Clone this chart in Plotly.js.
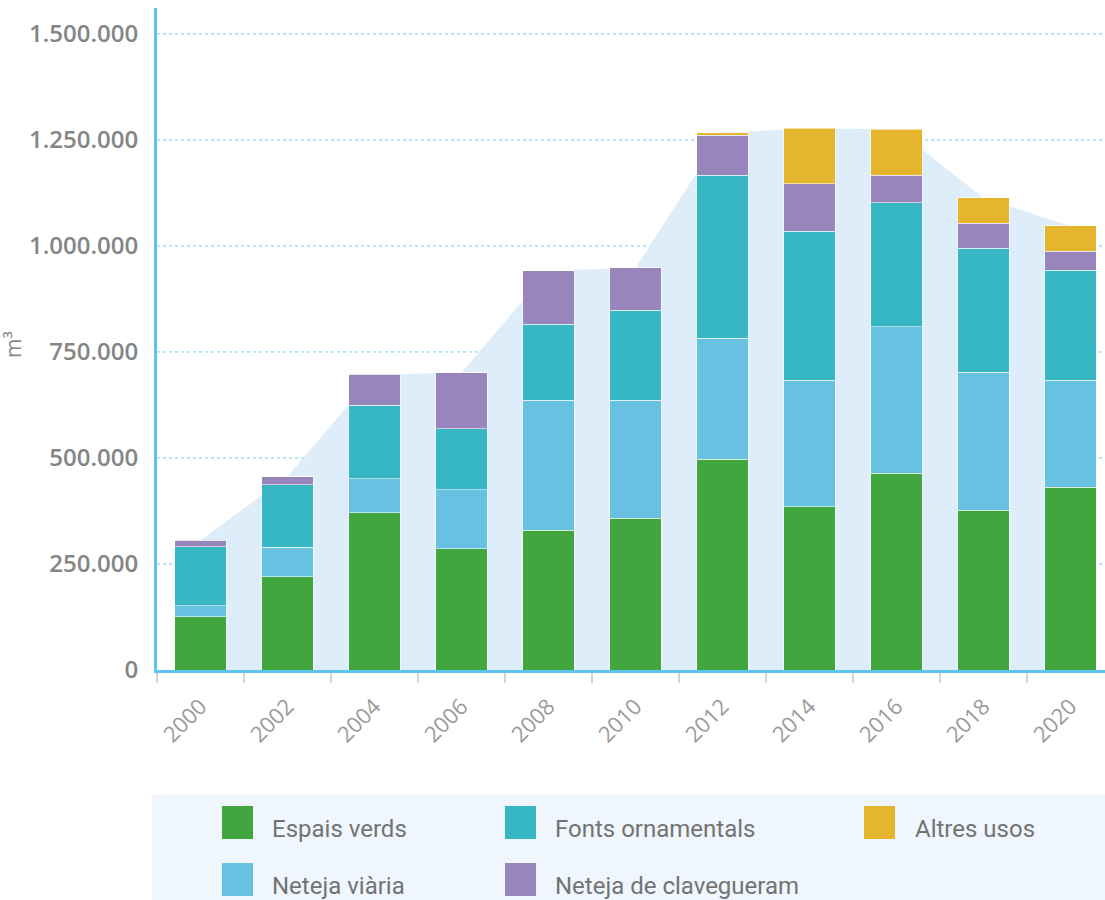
<!DOCTYPE html>
<html><head><meta charset="utf-8">
<script src="https://cdn.plot.ly/plotly-3.0.1.min.js"></script>
<style>html,body{margin:0;padding:0;overflow:hidden;background:#fff}</style>
</head><body><div id="chart"></div>
<script>
// ---- data (m³) ----
const years = ['2000','2002','2004','2006','2008','2010','2012','2014','2016','2018','2020'];
const espaisVerds        = [125000, 220000, 371000, 286000, 330000, 358000, 497000, 385000, 464000, 377000, 431000];
const netejaViaria       = [ 26000,  70000,  80000, 139000, 306000, 278000, 285000, 298000, 345000, 325000, 252000];
const fontsOrnamentals   = [140000, 147000, 173000, 144000, 179000, 212000, 385000, 352000, 293000, 292000, 260000];
const netejaClavegueram  = [ 15000,  19000,  73000, 132000, 127000, 100000,  94000, 112000,  65000,  60000,  44000];
const altresUsos         = [     0,      0,      0,      0,      0,      0,   6000, 130000, 108000,  59000,  60000];
const seriesNames = ['Espais verds','Neteja viària','Fonts ornamentals','Neteja de clavegueram','Altres usos'];
const yTickVals = [0, 250000, 500000, 750000, 1000000, 1250000, 1500000];

// ---- style ----
const colors = {
  'Espais verds':'#42a63f',
  'Neteja viària':'#66c2e0',
  'Fonts ornamentals':'#37b7c4',
  'Neteja de clavegueram':'#9885bb',
  'Altres usos':'#e5b52e'
};
const seriesData = [espaisVerds, netejaViaria, fontsOrnamentals, netejaClavegueram, altresUsos];
const totals = years.map((_, i) => seriesData.reduce((s, arr) => s + arr[i], 0));

const W = 1120, H = 900, ML = 157, MR = 6, MT = 8, MB = 230;
const PW = W - ML - MR, PH = H - MT - MB;
const px = x => (x - ML) / PW;
const py = y => (H - MB - y) / PH;
const YMAX = 1561000;
const XR = [-0.5, years.length - 0.5];

// background area on the main subplot (drawn first), bars on an overlaid subplot (drawn on top)
const traces = [{
  type:'scatter', x: years, y: totals, mode:'lines', fill:'tozeroy',
  line:{color:'rgba(0,0,0,0)', width:0}, fillcolor:'#ddeefa',
  showlegend:false, hoverinfo:'skip', xaxis:'x', yaxis:'y'
}];
seriesNames.forEach((n, k) => {
  traces.push({
    type:'bar', name:n, x: years, y: seriesData[k], xaxis:'x2', yaxis:'y2',
    marker:{color: colors[n], line:{color:'rgba(255,255,255,0.55)', width:1}},
    showlegend:false
  });
});

// gridlines as below-layer shapes (under the area), one per y tick
const shapes = yTickVals.filter(v => v > 0).map(v => ({
  type:'line', xref:'paper', yref:'y', layer:'below',
  x0:0, x1:1, y0:v, y1:v, line:{color:'#74cbf1', width:1, dash:'dot'}
}));

// legend drawn as shapes + text
const legendItems = [
  {name:'Espais verds', sx:222, tx:270, cy:822},
  {name:'Fonts ornamentals', sx:505, tx:553, cy:822},
  {name:'Altres usos', sx:864, tx:913, cy:822},
  {name:'Neteja viària', sx:222, tx:270, cy:879},
  {name:'Neteja de clavegueram', sx:505, tx:553, cy:879}
];
shapes.push({
  type:'rect', xref:'paper', yref:'paper', layer:'below',
  x0: px(152), x1: px(1120), y0: py(795), y1: py(905),
  fillcolor:'#eff6fd', line:{width:0}
});
const annotations = [];
legendItems.forEach(it => {
  shapes.push({type:'rect', xref:'paper', yref:'paper',
    x0: px(it.sx), x1: px(it.sx + 31), y0: py(it.cy - 16), y1: py(it.cy + 17),
    fillcolor: colors[it.name], line:{width:0}});
  annotations.push({xref:'paper', yref:'paper', x: px(it.tx), y: py(it.cy + 7),
    xanchor:'left', yanchor:'middle', showarrow:false, text: it.name,
    font:{family:'Roboto, sans-serif', size:24, color:'#737373'}});
});
annotations.push({xref:'paper', yref:'paper', x: px(13), y: py(345), textangle:-90,
  xanchor:'center', yanchor:'middle', showarrow:false, text:'m³',
  font:{family:'"Open Sans", sans-serif', size:21, color:'#888'}});

const layout = {
  width: W, height: H,
  margin:{l:ML, r:MR, t:MT, b:MB, pad:0},
  paper_bgcolor:'#fff', plot_bgcolor:'#fff',
  barmode:'stack', bargap:0.41,
  separators:',.',
  showlegend:false,
  xaxis:{
    type:'category', range: XR, tickson:'boundaries', ticks:'outside', ticklen:10, tickwidth:2,
    tickcolor:'#cfd6dc', tickangle:-45, showgrid:false, ticklabelstandoff:12,
    showline:true, linecolor:'#5cc5ef', linewidth:3,
    tickfont:{family:'"Open Sans", sans-serif', size:22, color:'#9a9a9a'},
    fixedrange:true
  },
  yaxis:{
    range:[0, YMAX], tickvals: yTickVals, tickformat:',d',
    showgrid:false,
    zeroline:false, showline:true, linecolor:'#5cc5ef', linewidth:3,
    ticks:'', ticklabelstandoff:11,
    tickfont:{family:'"Open Sans", sans-serif', size:24, color:'#858585', weight:600},
    fixedrange:true
  },
  xaxis2:{type:'category', range: XR, overlaying:'x', visible:false, showgrid:false, zeroline:false, fixedrange:true},
  yaxis2:{range:[0, YMAX], overlaying:'y', visible:false, showgrid:false, zeroline:false, fixedrange:true},
  shapes: shapes,
  annotations: annotations
};
Plotly.newPlot('chart', traces, layout, {displayModeBar:false, staticPlot:true});
</script></body></html>
